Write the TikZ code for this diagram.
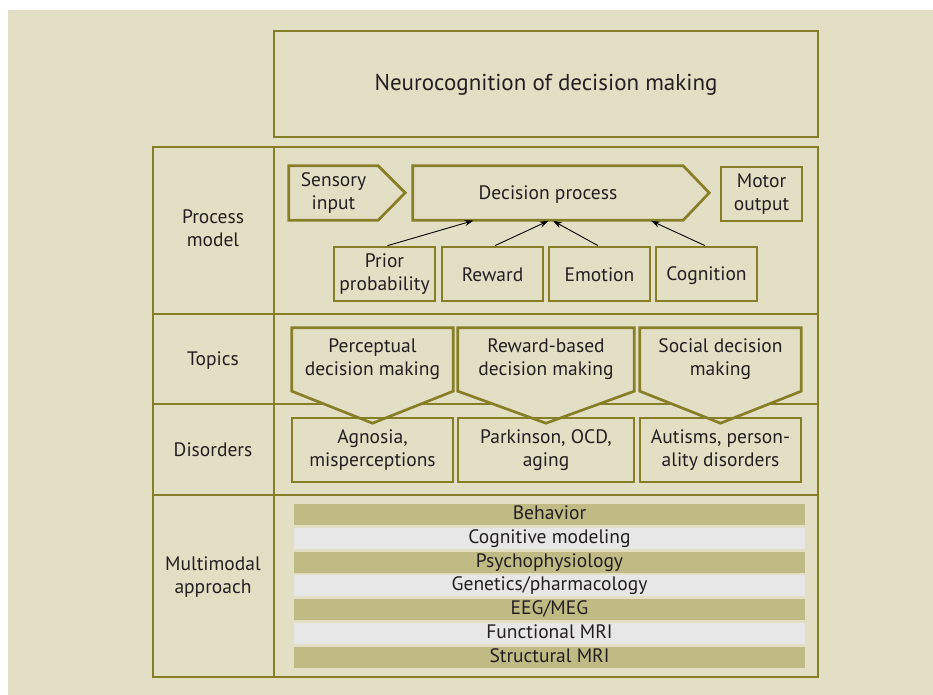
\documentclass[tikz,border=0pt]{standalone}
\usepackage{fontspec}
\setmainfont{PT Sans}
\usetikzlibrary{arrows.meta,calc}
\definecolor{bgc}{HTML}{E3DFC5}
\definecolor{olive}{HTML}{877F28}
\definecolor{barD}{HTML}{C0BA85}
\definecolor{barL}{HTML}{E7E7E8}
\definecolor{txt}{HTML}{231F20}
\pgfdeclarelayer{back}
\pgfsetlayers{back,main}
\newcommand\topstrut{\rule{0pt}{17.5pt}}
\newcommand\botstrut{\rule[-3.5pt]{0pt}{3.5pt}}
\begin{document}
\begin{tikzpicture}[x=1pt,y=-1pt,
  olv/.style={draw=olive,line width=2.7pt,line join=miter},
  txtnode/.style={inner sep=0pt,align=center,text=txt,font=\fontsize{19.5}{23}\selectfont,
    execute at begin node=\topstrut,execute at end node=\botstrut},
  boxn/.style={txtnode,olv},
  hollow/.style={txtnode,draw=none},
  barn/.style={inner sep=0pt,align=center,text=txt,minimum width=511pt,minimum height=21pt,font=\fontsize{19.5}{21}\selectfont,text height=14pt,text depth=4pt},
  arr/.style={black,line width=0.9pt,-{Stealth[length=9pt,width=6pt]},shorten >=1.3pt}
]
\useasboundingbox (0,0) rectangle (933,695);
\begin{pgfonlayer}{back}
\fill[bgc] (8,10) rectangle (933,695);
% table
\draw[olv] (153,147) rectangle (818,677);
\draw[olv] (274,147) -- (274,677);
\draw[olv] (153,314) -- (818,314);
\draw[olv] (153,404) -- (818,404);
\draw[olv] (153,495) -- (818,495);
\end{pgfonlayer}

% title
\node[boxn,minimum width=544pt,minimum height=106pt,font=\fontsize{23}{27}\selectfont] (title) at (546,84) {Neurocognition of decision making};

% row labels
\node[txtnode] (lproc) at (213,230) {Process\\model};
\node[txtnode] (ltop) at (213,359) {Topics};
\node[txtnode] (ldis) at (213,449) {Disorders};
\node[txtnode] (lmm) at (213,577) {Multimodal\\approach};

% process model
\node[hollow,minimum width=89pt,minimum height=54pt] (sensory) at (333.5,193) {Sensory\\input};
\draw[olv] (sensory.north west) -- (sensory.north east) -- ++(27,27) -- (sensory.south east) -- (sensory.south west) -- cycle;
\node[hollow,minimum width=270pt,minimum height=54pt] (decision) at (548,193) {Decision process};
\draw[olv] (decision.north west) -- (decision.north east) -- ++(26,27) -- (decision.south east) -- (decision.south west) -- cycle;
\node[boxn,minimum width=81pt,minimum height=54pt] (motor) at (761.5,194) {Motor\\output};

\node[boxn,minimum width=101pt,minimum height=54pt] (prior) at (384.5,274) {Prior\\probability};
\node[boxn,minimum width=101pt,minimum height=54pt] (reward) at (492.5,274) {Reward};
\node[boxn,minimum width=101pt,minimum height=54pt] (emotion) at (599.5,274) {Emotion};
\node[boxn,minimum width=101pt,minimum height=54pt] (cognition) at (706.5,274) {Cognition};

\draw[arr] ([xshift=3pt]prior.north) -- ([xshift=62pt]decision.south west);
\draw[arr] ([xshift=2.5pt]reward.north) -- ([xshift=137pt]decision.south west);
\draw[arr] ([xshift=-1.5pt]emotion.north) -- ([xshift=139pt]decision.south west);
\draw[arr] ([xshift=-1.5pt]cognition.north) -- ([xshift=237pt]decision.south west);

% topics
\node[hollow,minimum width=161pt,minimum height=63pt] (perc) at (372.5,359.5) {Perceptual\\decision making};
\node[hollow,minimum width=176pt,minimum height=63pt] (rewb) at (546,359.5) {Reward-based\\decision making};
\node[hollow,minimum width=161pt,minimum height=63pt] (soc) at (720.5,359.5) {Social decision\\making};
\begin{pgfonlayer}{back}
\foreach \t in {perc,rewb,soc}{
  \draw[olv,fill=bgc] (\t.north west) -- (\t.north east) -- (\t.south east) -- ($(\t.south)+(0,32)$) -- (\t.south west) -- cycle;
}
\end{pgfonlayer}

% disorders
\node[boxn,minimum width=161pt,minimum height=64pt] (agn) at (372.5,450) {Agnosia,\\misperceptions};
\node[boxn,minimum width=176pt,minimum height=64pt] (park) at (546,450) {Parkinson, OCD,\\aging};
\node[boxn,minimum width=161pt,minimum height=64pt] (aut) at (720.5,450) {Autisms, person-\\ality disorders};

% multimodal bars
\foreach \i/\lab/\c in {0/Behavior/barD,1/Cognitive modeling/barL,2/Psychophysiology/barD,3/Genetics\slash pharmacology/barL,4/EEG\slash MEG/barD,5/Functional MRI/barL,6/Structural MRI/barD}{
  \node[barn,fill=\c] (bar\i) at (549.5,{514.5+23.83*\i}) {\lab};
}
\end{tikzpicture}
\end{document}
